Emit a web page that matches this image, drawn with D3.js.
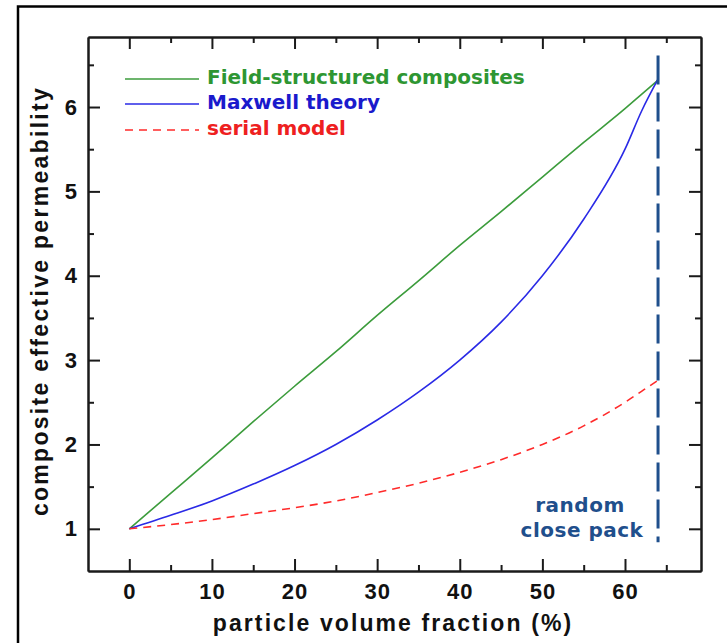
<!DOCTYPE html>
<html>
<head>
<meta charset="utf-8">
<script src="https://cdn.jsdelivr.net/npm/d3@7/dist/d3.min.js"></script>
<style>
  html, body { margin: 0; padding: 0; background: #fff; }
  svg { display: block; }
</style>
</head>
<body>
<script>
// ---- data ----
const xMajorTicks = [0, 10, 20, 30, 40, 50, 60];
const xMinorTicks = [5, 15, 25, 35, 45, 55, 65];
const yMajorTicks = [1, 2, 3, 4, 5, 6];
const yMinorTicks = [1.5, 2.5, 3.5, 4.5, 5.5, 6.5];

const fraction        = [0, 5, 10, 15, 20, 25, 30, 35, 40, 45, 50, 55, 60, 62, 64];
const fieldStructured = [1.00, 1.42, 1.84, 2.27, 2.69, 3.10, 3.53, 3.94, 4.36, 4.76, 5.17, 5.58, 5.98, 6.15, 6.32];
const maxwell         = [1.00, 1.16, 1.33, 1.53, 1.75, 2.00, 2.29, 2.62, 3.00, 3.45, 4.00, 4.67, 5.50, 5.95, 6.33];
const serial          = [1.00, 1.05, 1.11, 1.18, 1.25, 1.33, 1.43, 1.54, 1.67, 1.82, 2.00, 2.22, 2.50, 2.63, 2.76];

const seriesNames  = ["Field-structured composites", "Maxwell theory", "serial model"];
const seriesValues = [fieldStructured, maxwell, serial];
const lineColors   = ["#3c9c3c", "#2a2ae6", "#ff2a2a"];
const textColors   = ["#2e9632", "#1a1acc", "#ee2020"];
const lineDashes   = [null, null, "8,6"];

const rcpFraction = 64;
const rcpSpan = [0.84, 6.61];
const rcpLabel = ["random", "close pack"];

const xTitle = "particle volume fraction (%)";
const yTitle = "composite effective permeability";

// ---- layout ----
const W = 727, H = 643;
const L = 88, R = 701, T = 37, B = 571;

const svg = d3.select("body").append("svg").attr("width", W).attr("height", H);
svg.append("rect").attr("width", W).attr("height", H).attr("fill", "#fff");

// outer frame
svg.append("rect").attr("x", 18).attr("y", 6.5).attr("width", W).attr("height", H)
  .attr("fill", "none").attr("stroke", "#000").attr("stroke-width", 2.5);

const x = d3.scaleLinear().domain([-5, 69.2]).range([L, R]);
const y = d3.scaleLinear().domain([0.5, 6.83]).range([B, T]);

const tickFont = "Liberation Sans, Arial, sans-serif";

function styleAxis(g) {
  g.select(".domain").attr("stroke", "#1a1a1a").attr("stroke-width", 2);
  g.selectAll(".tick line").attr("stroke", "#1a1a1a").attr("stroke-width", 2);
  g.selectAll(".tick text").attr("fill", "#111").attr("font-family", tickFont)
    .attr("font-weight", "bold").attr("font-size", 22).attr("letter-spacing", 1);
}

// bottom
svg.append("g").attr("transform", `translate(0,${B})`)
  .call(d3.axisBottom(x).tickValues(xMinorTicks).tickSizeInner(-6).tickSizeOuter(0).tickFormat(""))
  .call(styleAxis);
svg.append("g").attr("transform", `translate(0,${B})`)
  .call(d3.axisBottom(x).tickValues(xMajorTicks).tickSizeInner(-12).tickSizeOuter(0).tickPadding(12).tickFormat(d3.format("d")))
  .call(styleAxis);
// top
svg.append("g").attr("transform", `translate(0,${T})`)
  .call(d3.axisTop(x).tickValues(xMinorTicks).tickSizeInner(-6).tickSizeOuter(0).tickFormat(""))
  .call(styleAxis);
svg.append("g").attr("transform", `translate(0,${T})`)
  .call(d3.axisTop(x).tickValues(xMajorTicks).tickSizeInner(-12).tickSizeOuter(0).tickFormat(""))
  .call(styleAxis);
// left
svg.append("g").attr("transform", `translate(${L},0)`)
  .call(d3.axisLeft(y).tickValues(yMinorTicks).tickSizeInner(-6).tickSizeOuter(0).tickFormat(""))
  .call(styleAxis);
svg.append("g").attr("transform", `translate(${L},0)`)
  .call(d3.axisLeft(y).tickValues(yMajorTicks).tickSizeInner(-12).tickSizeOuter(0).tickPadding(10).tickFormat(d3.format("d")))
  .call(styleAxis);
// right
svg.append("g").attr("transform", `translate(${R},0)`)
  .call(d3.axisRight(y).tickValues(yMinorTicks).tickSizeInner(-6).tickSizeOuter(0).tickFormat(""))
  .call(styleAxis);
svg.append("g").attr("transform", `translate(${R},0)`)
  .call(d3.axisRight(y).tickValues(yMajorTicks).tickSizeInner(-12).tickSizeOuter(0).tickFormat(""))
  .call(styleAxis);

// curves
const line = d3.line().x(d => x(d[0])).y(d => y(d[1])).curve(d3.curveMonotoneX);
seriesValues.forEach((vals, i) => {
  const pts = fraction.map((f, j) => [f, vals[j]]);
  svg.append("path").datum(pts).attr("d", line)
    .attr("fill", "none").attr("stroke", lineColors[i]).attr("stroke-width", 1.6)
    .attr("stroke-dasharray", lineDashes[i]);
});

// random close pack line
svg.append("line")
  .attr("x1", x(rcpFraction)).attr("x2", x(rcpFraction))
  .attr("y1", y(rcpSpan[1])).attr("y2", y(rcpSpan[0]))
  .attr("stroke", "#1f4f8c").attr("stroke-width", 3).attr("stroke-dasharray", "29,8");

const labelFont = "DejaVu Sans, Verdana, sans-serif";
svg.append("text").attr("x", 580).attr("y", 512).attr("text-anchor", "middle")
  .attr("font-family", labelFont).attr("font-weight", "bold").attr("font-size", 20)
  .attr("letter-spacing", 0.5).attr("fill", "#1f4f8c").text(rcpLabel[0]);
svg.append("text").attr("x", 582).attr("y", 537).attr("text-anchor", "middle")
  .attr("font-family", labelFont).attr("font-weight", "bold").attr("font-size", 20)
  .attr("letter-spacing", 0.5).attr("fill", "#1f4f8c").text(rcpLabel[1]);

// legend
const legendY = [79, 104, 130];
seriesNames.forEach((name, i) => {
  svg.append("line").attr("x1", 125).attr("x2", 199)
    .attr("y1", legendY[i]).attr("y2", legendY[i])
    .attr("stroke", lineColors[i]).attr("stroke-width", 1.6)
    .attr("stroke-dasharray", lineDashes[i]);
  svg.append("text").attr("x", 207).attr("y", legendY[i] + 4.5)
    .attr("font-family", labelFont).attr("font-weight", "bold").attr("font-size", 20)
    .attr("fill", textColors[i]).text(name);
});

// axis titles
svg.append("text").attr("x", 393).attr("y", 631).attr("text-anchor", "middle")
  .attr("font-family", tickFont).attr("font-weight", "bold").attr("font-size", 23)
  .attr("letter-spacing", 2.1).attr("fill", "#111").text(xTitle);
svg.append("text").attr("transform", `translate(48,301) rotate(-90)`).attr("text-anchor", "middle")
  .attr("font-family", tickFont).attr("font-weight", "bold").attr("font-size", 23)
  .attr("letter-spacing", 2.3).attr("fill", "#111").text(yTitle);
</script>
</body>
</html>
